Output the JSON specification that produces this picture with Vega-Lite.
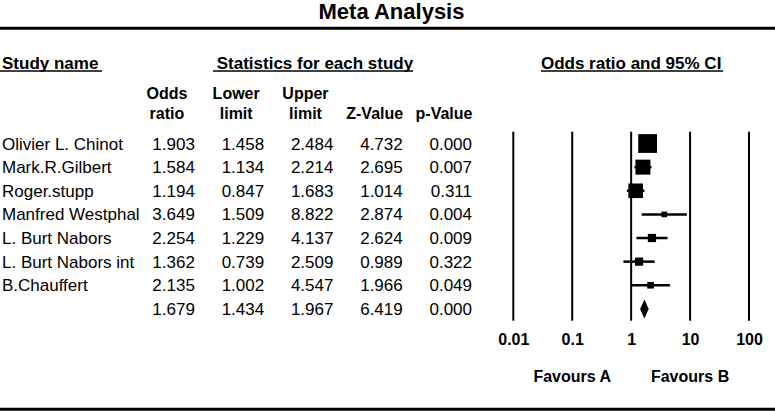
{
  "$schema": "https://vega.github.io/schema/vega-lite/v6.json",
  "width": 775,
  "height": 384,
  "autosize": "none",
  "padding": {"top": 28, "left": 0, "right": 0, "bottom": 0},
  "background": "white",
  "title": {"text": "Meta Analysis", "font": "Liberation Sans, Arial, sans-serif", "fontSize": 22, "fontWeight": "bold", "color": "black", "anchor": "middle", "frame": "group", "offset": 3, "dx": 4},
  "config": {
    "view": {"stroke": null},
    "text": {"font": "Liberation Sans, Arial, sans-serif", "color": "black"},
    "rule": {"color": "black"}
  },
  "datasets": {
    "studies": [
      {"study": "Olivier L. Chinot", "type": "study", "odds_ratio": 1.903, "lower": 1.458, "upper": 2.484, "z": 4.732, "p": 0.000, "weight": 35.3},
      {"study": "Mark.R.Gilbert", "type": "study", "odds_ratio": 1.584, "lower": 1.134, "upper": 2.214, "z": 2.695, "p": 0.007, "weight": 22.4},
      {"study": "Roger.stupp", "type": "study", "odds_ratio": 1.194, "lower": 0.847, "upper": 1.683, "z": 1.014, "p": 0.311, "weight": 21.3},
      {"study": "Manfred Westphal", "type": "study", "odds_ratio": 3.649, "lower": 1.509, "upper": 8.822, "z": 2.874, "p": 0.004, "weight": 3.2},
      {"study": "L. Burt Nabors", "type": "study", "odds_ratio": 2.254, "lower": 1.229, "upper": 4.137, "z": 2.624, "p": 0.009, "weight": 6.8},
      {"study": "L. Burt Nabors int", "type": "study", "odds_ratio": 1.362, "lower": 0.739, "upper": 2.509, "z": 0.989, "p": 0.322, "weight": 6.7},
      {"study": "B.Chauffert", "type": "study", "odds_ratio": 2.135, "lower": 1.002, "upper": 4.547, "z": 1.966, "p": 0.049, "weight": 4.4},
      {"study": "Combined", "type": "pooled", "odds_ratio": 1.679, "lower": 1.434, "upper": 1.967, "z": 6.419, "p": 0.000}
    ],
    "columns": [
      {"col": "odds_ratio", "line1": "Odds", "line2": "ratio"},
      {"col": "lower", "line1": "Lower", "line2": "limit"},
      {"col": "upper", "line1": "Upper", "line2": "limit"},
      {"col": "z", "line1": "", "line2": "Z-Value"},
      {"col": "p", "line1": "", "line2": "p-Value"}
    ],
    "ticks": [{"ref": 0.01}, {"ref": 0.1}, {"ref": 1}, {"ref": 10}, {"ref": 100}]
  },
  "layer": [
    {
      "layer": [
        {
          "data": {"name": "studies"},
          "transform": [{"filter": "datum.type === 'study'"}],
          "mark": {"type": "text", "align": "left", "baseline": "middle", "fontSize": 17, "dy": 1},
          "encoding": {
            "x": {"value": 2},
            "y": {"field": "study", "type": "nominal", "sort": null, "axis": null,
                  "scale": {"type": "band", "domain": ["Olivier L. Chinot", "Mark.R.Gilbert", "Roger.stupp", "Manfred Westphal", "L. Burt Nabors", "L. Burt Nabors int", "B.Chauffert", "Combined"], "range": [103.7, 292.7], "paddingInner": 0, "paddingOuter": 0}},
            "text": {"field": "study"}
          }
        },
        {
          "data": {"name": "studies"},
          "transform": [{"fold": ["odds_ratio", "lower", "upper", "z", "p"], "as": ["col", "val"]}],
          "mark": {"type": "text", "align": "right", "baseline": "middle", "fontSize": 17, "dy": 1},
          "encoding": {
            "x": {"field": "col", "type": "nominal", "axis": null,
                  "scale": {"type": "point", "domain": ["odds_ratio", "lower", "upper", "z", "p"], "range": [194.9, 472], "padding": 0}},
            "y": {"field": "study", "type": "nominal", "sort": null, "axis": null},
            "text": {"field": "val", "type": "quantitative", "format": ".3f"}
          }
        },
        {
          "data": {"name": "columns"},
          "mark": {"type": "text", "align": "center", "baseline": "middle", "fontSize": 16, "fontWeight": "bold", "dx": -28},
          "encoding": {
            "x": {"field": "col", "type": "nominal"},
            "y": {"value": 66.4},
            "text": {"field": "line1"}
          }
        },
        {
          "data": {"name": "columns"},
          "mark": {"type": "text", "align": "center", "baseline": "middle", "fontSize": 16, "fontWeight": "bold", "dx": -28},
          "encoding": {
            "x": {"field": "col", "type": "nominal"},
            "y": {"value": 86},
            "text": {"field": "line2"}
          }
        },
        {
          "data": {"values": [{"header": "Statistics for each study"}]},
          "mark": {"type": "text", "align": "center", "baseline": "middle", "fontSize": 17, "fontWeight": "bold", "dx": -18.5},
          "encoding": {
            "x": {"datum": "upper", "type": "nominal"},
            "y": {"value": 35.5},
            "text": {"field": "header"}
          }
        }
      ]
    },
    {
      "layer": [
        {
          "data": {"name": "ticks"},
          "mark": {"type": "rule", "strokeWidth": 2, "color": "black"},
          "encoding": {
            "x": {"field": "ref", "type": "quantitative",
                  "scale": {"type": "log", "domain": [0.01, 100], "range": [513.3, 749], "nice": false},
                  "axis": {"values": [0.01, 0.1, 1, 10, 100], "format": "~g", "title": null, "grid": false, "domain": false, "ticks": false, "tickSize": 0,
                           "labelFont": "Liberation Sans, Arial, sans-serif", "labelFontSize": 16, "labelFontWeight": "bold", "labelColor": "black",
                           "labelPadding": 11, "offset": -91.3, "orient": "bottom", "labelFlush": false, "labelOverlap": false}},
            "y": {"value": 103.7},
            "y2": {"value": 292.7}
          }
        },
        {
          "data": {"name": "studies"},
          "transform": [{"filter": "datum.type === 'study'"}],
          "mark": {"type": "rule", "strokeWidth": 2.5, "color": "black"},
          "encoding": {
            "x": {"field": "lower", "type": "quantitative"},
            "x2": {"field": "upper"},
            "y": {"field": "study", "type": "nominal", "sort": null, "axis": null,
                  "scale": {"type": "band", "domain": ["Olivier L. Chinot", "Mark.R.Gilbert", "Roger.stupp", "Manfred Westphal", "L. Burt Nabors", "L. Burt Nabors int", "B.Chauffert", "Combined"], "range": [103.7, 292.7], "paddingInner": 0, "paddingOuter": 0}}
          }
        },
        {
          "data": {"name": "studies"},
          "transform": [{"filter": "datum.type === 'study'"}],
          "mark": {"type": "point", "shape": "square", "filled": true, "color": "black", "opacity": 1, "strokeWidth": 0},
          "encoding": {
            "x": {"field": "odds_ratio", "type": "quantitative"},
            "y": {"field": "study", "type": "nominal", "sort": null},
            "size": {"field": "weight", "type": "quantitative", "scale": {"type": "linear", "domain": [0, 36], "range": [0, 360]}, "legend": null}
          }
        },
        {
          "data": {"name": "studies"},
          "transform": [{"filter": "datum.type === 'pooled'"}],
          "mark": {"type": "point", "shape": "M-0.45,0L0,-1L0.45,0L0,1Z", "filled": true, "color": "black", "opacity": 1, "size": 361, "strokeWidth": 0},
          "encoding": {
            "x": {"field": "odds_ratio", "type": "quantitative"},
            "y": {"field": "study", "type": "nominal", "sort": null}
          }
        },
        {
          "data": {"values": [{"header": "Odds ratio and 95% CI"}]},
          "mark": {"type": "text", "align": "center", "baseline": "middle", "fontSize": 17, "fontWeight": "bold"},
          "encoding": {
            "x": {"datum": 1, "type": "quantitative"},
            "y": {"value": 35.5},
            "text": {"field": "header"}
          }
        },
        {
          "data": {"values": [{"label": "Favours A"}]},
          "mark": {"type": "text", "align": "center", "baseline": "middle", "fontSize": 16, "fontWeight": "bold"},
          "encoding": {
            "x": {"datum": 0.1, "type": "quantitative"},
            "y": {"value": 349},
            "text": {"field": "label"}
          }
        },
        {
          "data": {"values": [{"label": "Favours B"}]},
          "mark": {"type": "text", "align": "center", "baseline": "middle", "fontSize": 16, "fontWeight": "bold"},
          "encoding": {
            "x": {"datum": 10, "type": "quantitative"},
            "y": {"value": 349},
            "text": {"field": "label"}
          }
        }
      ]
    },
    {
      "data": {"values": [{"header": "Study name"}]},
      "layer": [
        {
          "mark": {"type": "text", "align": "left", "baseline": "middle", "fontSize": 17, "fontWeight": "bold"},
          "encoding": {"x": {"value": 2}, "y": {"value": 35.5}, "text": {"field": "header"}}
        },
        {
          "mark": {"type": "rule", "strokeWidth": 3, "color": "black"},
          "encoding": {"y": {"value": 0.3}}
        },
        {
          "mark": {"type": "rule", "strokeWidth": 3, "color": "black"},
          "encoding": {"y": {"value": 381.3}}
        },
        {
          "mark": {"type": "rule", "strokeWidth": 1.6, "color": "black"},
          "encoding": {"x": {"value": 0}, "x2": {"value": 102}, "y": {"value": 43}}
        },
        {
          "mark": {"type": "rule", "strokeWidth": 1.6, "color": "black"},
          "encoding": {"x": {"value": 213}, "x2": {"value": 413}, "y": {"value": 43}}
        },
        {
          "mark": {"type": "rule", "strokeWidth": 1.6, "color": "black"},
          "encoding": {"x": {"value": 541}, "x2": {"value": 723}, "y": {"value": 43}}
        }
      ]
    }
  ],
  "resolve": {"scale": {"x": "independent", "y": "independent", "size": "independent"}}
}
